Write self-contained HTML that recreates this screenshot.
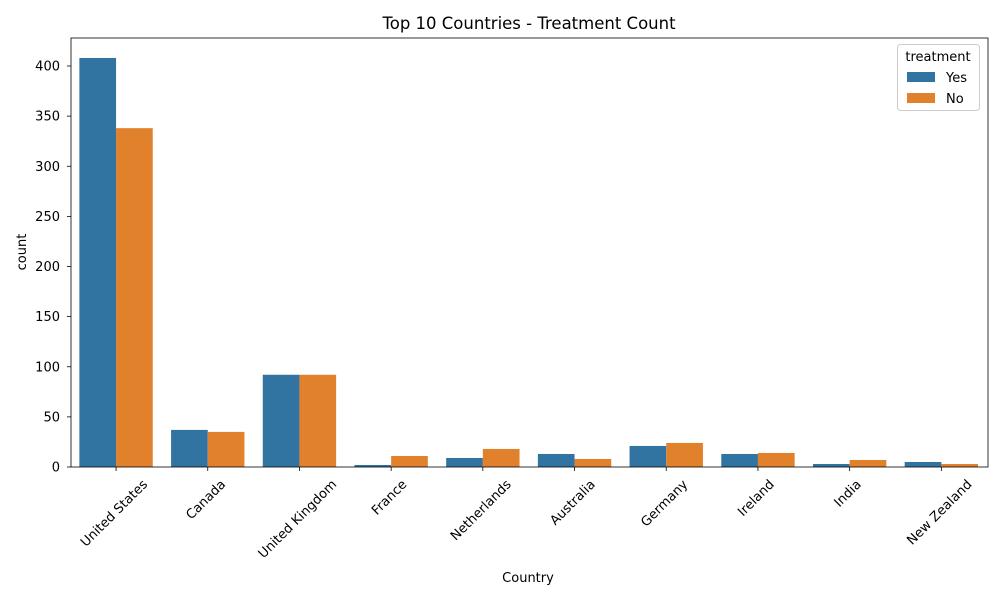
<!DOCTYPE html>
<html><head><meta charset="utf-8"><style>
body{margin:0;background:#fff;font-family:"DejaVu Sans","Liberation Sans",sans-serif;}
</style></head><body>
<svg id="chart" width="1000" height="600" xmlns="http://www.w3.org/2000/svg" font-family="DejaVu Sans, Liberation Sans, sans-serif">
<g id="bars"></g>
<g id="axes"></g>
<text x="529" y="29" font-size="16.5" text-anchor="middle">Top 10 Countries - Treatment Count</text>
<text x="528" y="582" font-size="13" text-anchor="middle">Country</text>
<text transform="translate(26,252) rotate(-90)" font-size="13" text-anchor="middle">count</text>
<g>
<rect x="897.5" y="44.5" width="82" height="66" rx="3" fill="#fff" stroke="#ccc"/>
<text x="938" y="61" font-size="13" text-anchor="middle">treatment</text>
<g><rect x="907" y="72" width="28" height="10" fill="#3274a1"/><text x="946" y="82" font-size="13">Yes</text></g>
<g><rect x="907" y="93" width="28" height="10" fill="#e1812c"/><text x="946" y="103" font-size="13">No</text></g>
</g>
</svg>
<script>
const categories=["United States","Canada","United Kingdom","France","Netherlands","Australia","Germany","Ireland","India","New Zealand"];
const yesValues=[408,37,92,2,9,13,21,13,3,5];
const noValues=[338,35,92,11,18,8,24,14,7,3];
const yTicks=[0,50,100,150,200,250,300,350,400];
const NS="http://www.w3.org/2000/svg";
const L=71,R=988,T=38,B=467;
const step=(R-L)/categories.length;
const bw=step*0.4;
function xc(i){return L+step*(i+0.5)-0.8;}
function y(v){return B-v*(B-66)/400;}
function mk(tag,attrs,parent){const e=document.createElementNS(NS,tag);for(const k in attrs)e.setAttribute(k,attrs[k]);parent.appendChild(e);return e;}
const bars=document.getElementById('bars'),axes=document.getElementById('axes');
categories.forEach((c,i)=>{
 const a=mk('rect',{x:xc(i)-bw,y:y(yesValues[i]),width:bw,height:B-y(yesValues[i]),fill:'#3274a1'},bars);
 
 
 const b=mk('rect',{x:xc(i),y:y(noValues[i]),width:bw,height:B-y(noValues[i]),fill:'#e1812c'},bars);
 
 
 mk('line',{x1:xc(i),x2:xc(i),y1:B,y2:B+4,stroke:'#000','stroke-width':0.8},axes);
 const t=mk('text',{'font-size':13,'text-anchor':'middle','dominant-baseline':'central'},axes);
 t.textContent=c;
 
 
 const w=t.getComputedTextLength();
 const half=(w+13)*0.3536;
 t.setAttribute('transform',`translate(${xc(i)-1.5},${B+11+half}) rotate(-45)`);
});
yTicks.forEach(v=>{
 mk('line',{x1:L-4,x2:L,y1:y(v),y2:y(v),stroke:'#000','stroke-width':0.8},axes);
 const t=mk('text',{x:L-11,y:y(v)+4.5,'font-size':13,'text-anchor':'end'},axes);
 t.textContent=v;
 
 
});
mk('rect',{x:L,y:T,width:R-L,height:B-T,fill:'none',stroke:'#000','stroke-width':0.8},axes);
</script>
</body></html>
